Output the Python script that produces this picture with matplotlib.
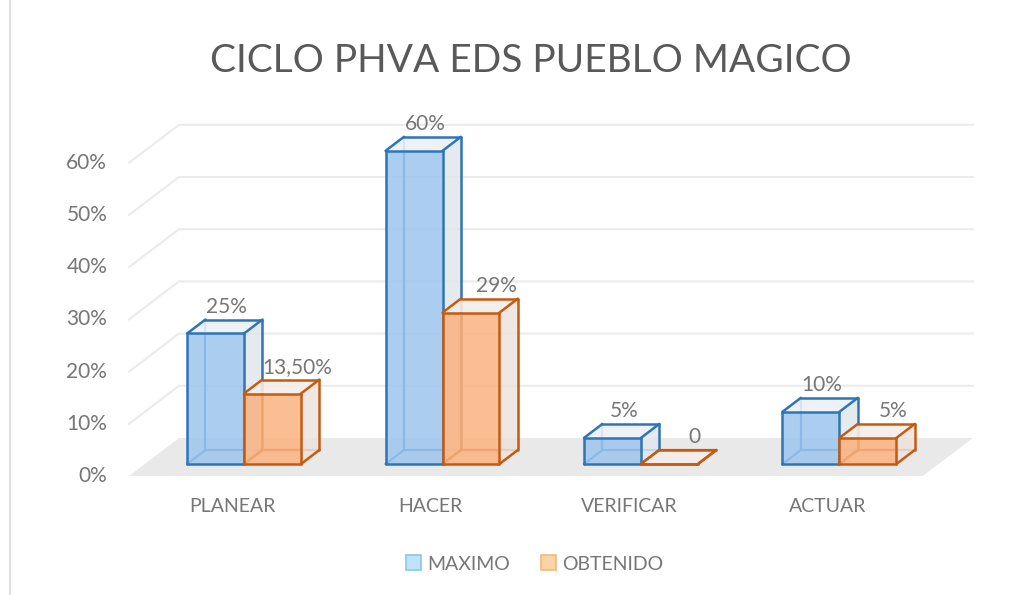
import matplotlib.pyplot as plt
from matplotlib.patches import Polygon, Patch
from matplotlib.lines import Line2D

# Chart data
categories = ['PLANEAR', 'HACER', 'VERIFICAR', 'ACTUAR']
series_names = ['MAXIMO', 'OBTENIDO']
maximo = [25, 60, 5, 10]
obtenido = [13.5, 29, 0, 5]
maximo_labels = ['25%', '60%', '5%', '10%']
obtenido_labels = ['13,50%', '29%', '0', '5%']
y_ticks = [0, 10, 20, 30, 40, 50, 60]
title = 'CICLO PHVA EDS PUEBLO MAGICO'

# Fake 3D: shift of the full floor depth, in (category units, percent units)
DEPTH_X = 0.252
DEPTH_Y = 7.28
BAR_FRONT = 0.316
BAR_BACK = 0.684
BAR_WIDTH = 0.287

FONT = 'Lato'
TEXT_GRAY = '#767676'

# Colors per series: front, edge, top, side
BLUE = ('#9cc5ee', '#2e75b6', '#edf1f5', '#e1e7ed')
ORANGE = ('#fbb27f', '#c55a11', '#f4eeea', '#ede3de')


# Project a point (x, value, depth) onto the 2D axes
def project(x, y, d):
    return (x + d * DEPTH_X, y + d * DEPTH_Y)


# Draw one transparent 3D box
def draw_bar(ax, left, value, colors, z):
    face, edge, top, side = colors
    w = BAR_WIDTH
    fbl = project(left, 0, BAR_FRONT)
    fbr = project(left + w, 0, BAR_FRONT)
    ftl = project(left, value, BAR_FRONT)
    ftr = project(left + w, value, BAR_FRONT)
    bbl = project(left, 0, BAR_BACK)
    bbr = project(left + w, 0, BAR_BACK)
    btl = project(left, value, BAR_BACK)
    btr = project(left + w, value, BAR_BACK)

    # Hidden edges, seen through the faces
    for a, b in [(bbl, bbr), (bbl, btl), (fbl, bbl)]:
        ax.plot([a[0], b[0]], [a[1], b[1]], color=edge, lw=1.6, zorder=z,
                solid_capstyle='round')

    # Side and top faces
    ax.add_patch(Polygon([fbr, bbr, btr, ftr], closed=True, fc=side,
                         ec='none', alpha=0.85, zorder=z + 0.1))
    ax.add_patch(Polygon([ftl, ftr, btr, btl], closed=True, fc=top,
                         ec='none', alpha=0.9, zorder=z + 0.1))

    # Front face
    ax.bar(fbl[0], value, width=w, bottom=fbl[1], align='edge', color=face,
           alpha=0.85, zorder=z + 0.2)

    # Visible edges
    edges = [(fbl, fbr), (fbr, ftr), (ftr, ftl), (ftl, fbl),
             (ftl, btl), (btl, btr), (btr, ftr), (btr, bbr), (bbr, fbr)]
    for a, b in edges:
        ax.plot([a[0], b[0]], [a[1], b[1]], color=edge, lw=1.8, zorder=z + 0.3,
                solid_capstyle='round')
    return btl, btr, ftl, ftr


fig = plt.figure(figsize=(10.36, 5.95), dpi=100)
ax = fig.add_axes([0, 0, 1, 1])
ax.set_xlim(-1.15, 4.07)
ax.set_ylim(-22.8, 91.19)
ax.axis('off')

n = len(categories)
x_lo, x_hi = -0.5, n - 0.5

# Back wall and side wall gridlines
for v in y_ticks[1:]:
    p0 = project(x_lo, v, 0)
    p1 = project(x_lo, v, 1)
    p2 = project(x_hi, v, 1)
    ax.plot([p0[0], p1[0], p2[0]], [p0[1], p1[1], p2[1]], color='#ebebeb',
            lw=1.5, zorder=0.5)

# Floor
floor = [project(x_lo, 0, 0), project(x_hi, 0, 0), project(x_hi, 0, 1),
         project(x_lo, 0, 1)]
ax.add_patch(Polygon(floor, closed=True, fc='#e9e9e9', ec='none', zorder=1))

# Bars and data labels
for i in range(n):
    z = 2 + i
    for j, (values, labels, colors) in enumerate(
            [(maximo, maximo_labels, BLUE), (obtenido, obtenido_labels, ORANGE)]):
        left = i - BAR_WIDTH + j * BAR_WIDTH
        btl, btr, ftl, ftr = draw_bar(ax, left, values[i], colors, z + j)
        cx = (ftl[0] + btr[0]) / 2 + (0.01 if j == 0 else 0.08)
        ax.text(cx, btl[1] + 2.4, labels[i], ha='center', va='center',
                fontsize=15, color=TEXT_GRAY, family=FONT, zorder=10)

# Y tick labels
for v in y_ticks:
    ax.text(x_lo - 0.11, v, f'{v}%', ha='right', va='center', fontsize=15,
            color=TEXT_GRAY, family=FONT)

# Category labels
for i, c in enumerate(categories):
    ax.text(i + 0.02, -5.9, c, ha='center', va='center', fontsize=14,
            color=TEXT_GRAY, family=FONT)

# Title
fig.text(0.512, 1 - 61 / 595, title, ha='center', va='center', fontsize=28,
         color='#595959', family=FONT)

# Legend
handles = [Patch(fc='#bfe3fa', ec='#8cc4f0', lw=1.2),
           Patch(fc='#fdd3a8', ec='#f8b67a', lw=1.2)]
leg = fig.legend(handles, series_names, loc='center', ncol=2, frameon=False,
                 bbox_to_anchor=(0.516, 1 - 564 / 595), handlelength=0.8,
                 handleheight=0.8, handletextpad=0.3, columnspacing=1.6,
                 prop={'family': FONT, 'size': 14})
for t in leg.get_texts():
    t.set_color(TEXT_GRAY)

# Chart frame edge on the left
fig.add_artist(Line2D([10 / 1036, 10 / 1036], [0, 1], color='#d9d9d9', lw=1.2))

fig.savefig('out.png', dpi=100, facecolor='white')
